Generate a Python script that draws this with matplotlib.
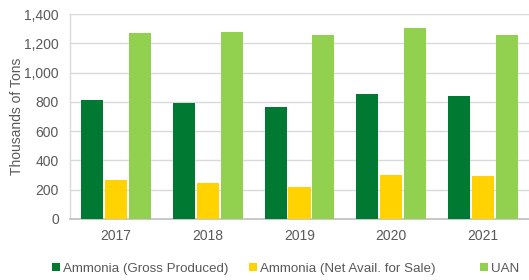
import matplotlib
matplotlib.use("Agg")
import matplotlib.pyplot as plt
import numpy as np
from matplotlib.ticker import FuncFormatter

years = ["2017", "2018", "2019", "2020", "2021"]
gross = [814, 794, 765, 851, 838]
net = [264, 244, 218, 302, 291]
uan = [1270, 1276, 1256, 1304, 1258]
series_names = ["Ammonia (Gross Produced)", "Ammonia (Net Avail. for Sale)", "UAN"]
colors = ["#007a33", "#ffd200", "#92d050"]

plt.rcParams['font.family'] = ['Liberation Sans', 'DejaVu Sans']
txt = "#595959"

fig = plt.figure(figsize=(5.29, 2.8), dpi=100)
ax = fig.add_axes([0.1323, 0.218, 0.8677, 0.732])
x = np.arange(len(years))
w = 0.24
step = 0.26
handles = []
for i, (vals, name, c) in enumerate(zip([gross, net, uan], series_names, colors)):
    b = ax.bar(x + (i - 1) * step, vals, width=w, color=c, label=name, zorder=3)
    handles.append(b)

ax.set_xlim(-0.5, len(years) - 0.5)
ax.set_ylim(0, 1400)
ax.set_yticks(range(0, 1401, 200))
ax.yaxis.set_major_formatter(FuncFormatter(lambda v, p: f"{int(v):,}"))
ax.set_xticks(x)
ax.set_xticklabels(years)
ax.grid(axis='y', color="#d9d9d9", linewidth=1, zorder=0)
for s in ["top", "right", "left"]:
    ax.spines[s].set_visible(False)
ax.spines["bottom"].set_color("#bfbfbf")
ax.spines["bottom"].set_linewidth(1.2)
ax.tick_params(axis='both', length=0, colors=txt, labelsize=10)
ax.tick_params(axis='y', pad=8)
ax.tick_params(axis='x', pad=7)
ax.set_ylabel("Thousands of Tons", color=txt, fontsize=10, labelpad=0)
ax.plot([0, 0], [0, 1], transform=ax.transAxes, color="#d9d9d9", lw=1, clip_on=False)

leg_kw = dict(loc="lower left", frameon=False, fontsize=9.6, labelcolor=txt,
              handlelength=0.55, handleheight=0.55, handletextpad=0.25,
              columnspacing=1.55, borderaxespad=0)
leg1 = fig.legend(handles[:2], series_names[:2], ncol=2,
                  bbox_to_anchor=(47 / 529, 0.0), **leg_kw)
leg2 = fig.legend(handles[2:], series_names[2:], ncol=1,
                  bbox_to_anchor=(475 / 529, 0.0), **leg_kw)
fig.savefig("out.png", dpi=100)
